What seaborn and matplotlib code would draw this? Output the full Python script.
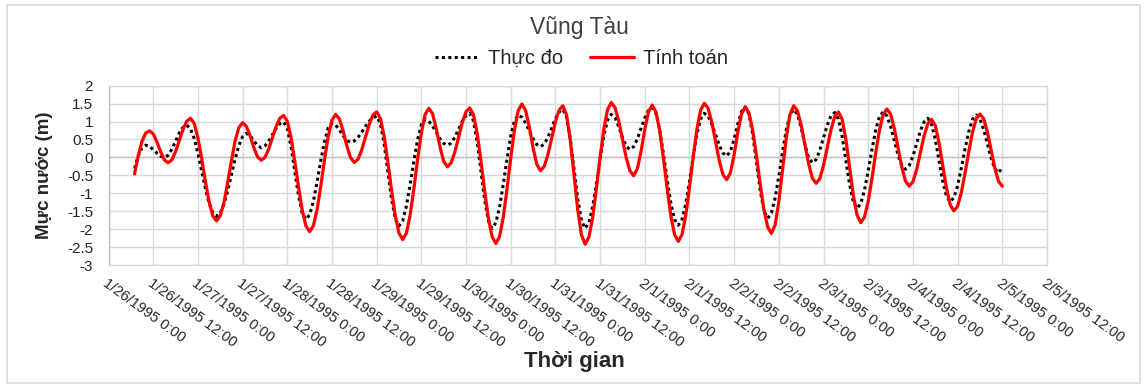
import matplotlib
matplotlib.use("Agg")
import matplotlib.pyplot as plt
from matplotlib.patches import Rectangle
import pandas as pd
import seaborn as sns

# hourly water level (m), Vung Tau, from 1/26/1995 7:00
start_time = "1995-01-26 07:00"

thuc_do = [
    -0.31, 0.05, 0.27, 0.34, 0.31, 0.22, 0.12, 0.03, 0.00, 0.06,
    0.23, 0.45, 0.68, 0.84, 0.90, 0.80, 0.53, 0.12, -0.37, -0.86,
    -1.27, -1.54, -1.64, -1.55, -1.30, -0.93, -0.49, -0.04, 0.33, 0.58,
    0.67, 0.61, 0.47, 0.33, 0.27, 0.32, 0.45, 0.63, 0.81, 0.94,
    0.99, 0.81, 0.31, -0.37, -1.05, -1.55, -1.73, -1.60, -1.23, -0.69,
    -0.09, 0.45, 0.82, 0.95, 0.90, 0.77, 0.60, 0.47, 0.42, 0.46,
    0.56, 0.70, 0.87, 1.01, 1.11, 1.15, 0.95, 0.39, -0.38, -1.15,
    -1.71, -1.91, -1.76, -1.35, -0.75, -0.10, 0.50, 0.91, 1.06, 1.01,
    0.88, 0.70, 0.52, 0.39, 0.34, 0.40, 0.56, 0.79, 1.01, 1.17,
    1.23, 1.02, 0.43, -0.38, -1.18, -1.77, -1.98, -1.82, -1.39, -0.75,
    -0.05, 0.59, 1.02, 1.18, 1.12, 0.96, 0.74, 0.52, 0.36, 0.30,
    0.37, 0.56, 0.82, 1.08, 1.27, 1.34, 1.12, 0.51, -0.32, -1.15,
    -1.76, -1.98, -1.82, -1.38, -0.74, -0.04, 0.60, 1.04, 1.20, 1.11,
    0.86, 0.56, 0.31, 0.22, 0.30, 0.51, 0.81, 1.10, 1.31, 1.39,
    1.23, 0.77, 0.11, -0.61, -1.27, -1.73, -1.89, -1.73, -1.30, -0.68,
    0.02, 0.64, 1.07, 1.23, 1.15, 0.93, 0.64, 0.34, 0.12, 0.04,
    0.17, 0.51, 0.94, 1.28, 1.41, 1.20, 0.63, -0.15, -0.92, -1.49,
    -1.70, -1.55, -1.13, -0.52, 0.16, 0.77, 1.19, 1.34, 1.20, 0.83,
    0.36, -0.01, -0.15, -0.06, 0.20, 0.55, 0.90, 1.16, 1.25, 1.07,
    0.58, -0.09, -0.75, -1.24, -1.42, -1.29, -0.91, -0.37, 0.22, 0.76,
    1.14, 1.27, 1.16, 0.87, 0.47, 0.07, -0.22, -0.33, -0.23, 0.03,
    0.38, 0.74, 0.99, 1.09, 0.93, 0.51, -0.08, -0.66, -1.08, -1.24,
    -1.12, -0.79, -0.30, 0.24, 0.72, 1.06, 1.18, 1.07, 0.78, 0.38,
    -0.02, -0.32, -0.43, -0.28,
]

tinh_toan = [
    -0.46, 0.05, 0.45, 0.68, 0.74, 0.66, 0.43, 0.16, -0.07, -0.15,
    -0.07, 0.16, 0.47, 0.78, 1.01, 1.09, 0.95, 0.55, -0.02, -0.66,
    -1.23, -1.63, -1.77, -1.63, -1.26, -0.70, -0.10, 0.46, 0.83, 0.97,
    0.87, 0.61, 0.28, 0.02, -0.08, 0.00, 0.23, 0.55, 0.86, 1.09,
    1.17, 1.01, 0.56, -0.09, -0.81, -1.46, -1.91, -2.07, -1.91, -1.46,
    -0.80, -0.07, 0.59, 1.04, 1.20, 1.07, 0.74, 0.32, -0.01, -0.14,
    -0.05, 0.21, 0.57, 0.92, 1.18, 1.27, 1.09, 0.60, -0.12, -0.91,
    -1.62, -2.11, -2.29, -2.11, -1.60, -0.87, -0.05, 0.68, 1.19, 1.37,
    1.22, 0.81, 0.30, -0.11, -0.26, -0.15, 0.15, 0.56, 0.97, 1.27,
    1.38, 1.19, 0.67, -0.09, -0.93, -1.69, -2.21, -2.40, -2.21, -1.67,
    -0.89, -0.02, 0.76, 1.30, 1.49, 1.31, 0.85, 0.27, -0.19, -0.37,
    -0.25, 0.08, 0.54, 0.99, 1.32, 1.44, 1.18, 0.48, -0.49, -1.46,
    -2.16, -2.42, -2.22, -1.68, -0.88, -0.01, 0.79, 1.33, 1.53, 1.39,
    1.02, 0.51, 0.00, -0.37, -0.51, -0.32, 0.17, 0.78, 1.27, 1.46,
    1.27, 0.75, -0.02, -0.86, -1.63, -2.15, -2.34, -2.15, -1.62, -0.84,
    0.01, 0.79, 1.32, 1.51, 1.37, 0.98, 0.45, -0.09, -0.48, -0.62,
    -0.43, 0.08, 0.71, 1.22, 1.41, 1.23, 0.75, 0.04, -0.75, -1.46,
    -1.94, -2.12, -1.88, -1.23, -0.34, 0.55, 1.20, 1.44, 1.30, 0.90,
    0.36, -0.18, -0.58, -0.72, -0.59, -0.22, 0.28, 0.77, 1.14, 1.27,
    1.06, 0.50, -0.28, -1.05, -1.61, -1.82, -1.66, -1.22, -0.59, 0.12,
    0.75, 1.19, 1.35, 1.21, 0.81, 0.28, -0.26, -0.66, -0.80, -0.68,
    -0.34, 0.13, 0.60, 0.94, 1.06, 0.89, 0.42, -0.22, -0.85, -1.32,
    -1.49, -1.36, -0.98, -0.44, 0.16, 0.70, 1.08, 1.21, 1.08, 0.71,
    0.21, -0.30, -0.67, -0.80,
]

tick_start = "1995-01-26 00:00"
n_ticks = 22
y_ticks = [-3, -2.5, -2, -1.5, -1, -0.5, 0, 0.5, 1, 1.5, 2]

times = pd.date_range(start_time, periods=len(thuc_do), freq="h")
df = pd.DataFrame({"time": times, "Thực đo": thuc_do, "Tính toán": tinh_toan})
ticks = pd.date_range(tick_start, periods=n_ticks, freq="12h")

sns.set_theme(style="whitegrid")
plt.rcParams["font.family"] = ["Liberation Sans", "DejaVu Sans"]
plt.rcParams["axes.unicode_minus"] = False

fig = plt.figure(figsize=(11.47, 3.87), dpi=100)
fig.patches.append(Rectangle((7 / 1147, 4 / 387), 1133 / 1147, 378 / 387,
                             transform=fig.transFigure, fill=False,
                             edgecolor="#D9D9D9", lw=1.2))
ax = fig.add_axes([0.0946, 0.3152, 0.8182, 0.4634])

sns.lineplot(data=df, x="time", y="Thực đo", ax=ax, color="black", lw=2.2,
             linestyle=(0, (1, 1.1)), dash_joinstyle="round",
             label="Thực đo")
sns.lineplot(data=df, x="time", y="Tính toán", ax=ax, color="#FF0000", lw=2.3,
             solid_joinstyle="round", label="Tính toán")

ax.set_xlim(ticks[0], ticks[-1])
ax.set_ylim(-3, 2)
ax.set_xticks(ticks)
ax.set_xticklabels([f"{t.month}/{t.day}/{t.year} {t.hour}:00" for t in ticks],
                   rotation=-36, ha="left", va="top", rotation_mode="anchor",
                   fontsize=10.5, color="#262626")
ax.set_yticks(y_ticks)
ax.set_yticklabels([f"{v:g}" for v in y_ticks], fontsize=11, color="#262626")
ax.tick_params(axis="x", length=0, pad=8)
ax.tick_params(axis="y", length=0, pad=11)
ax.grid(True, color="#D9D9D9", lw=1)
ax.axhline(0, color="#BFBFBF", lw=1, zorder=1)
for s in ax.spines.values():
    s.set_color("#D9D9D9")
    s.set_linewidth(1)
ax.spines["left"].set_color("#BFBFBF")
ax.set_xlabel("")
ax.set_ylabel("")

ax.legend(loc="center", bbox_to_anchor=(0.507, 0.85), bbox_transform=fig.transFigure,
          ncol=2, frameon=False, fontsize=14.5, handlelength=2.2, handletextpad=0.45,
          columnspacing=1.3)

fig.text(0.505, 0.928, "Vũng Tàu", ha="center", va="center", fontsize=16.5,
         color="#404040")
fig.text(0.501, 0.065, "Thời gian", ha="center", va="center", fontsize=16,
         fontweight="bold")
fig.text(0.039, 0.548, "Mực nước (m)", ha="center", va="center", rotation=90,
         fontsize=13.5, fontweight="bold")

fig.savefig("out.png", dpi=100)
